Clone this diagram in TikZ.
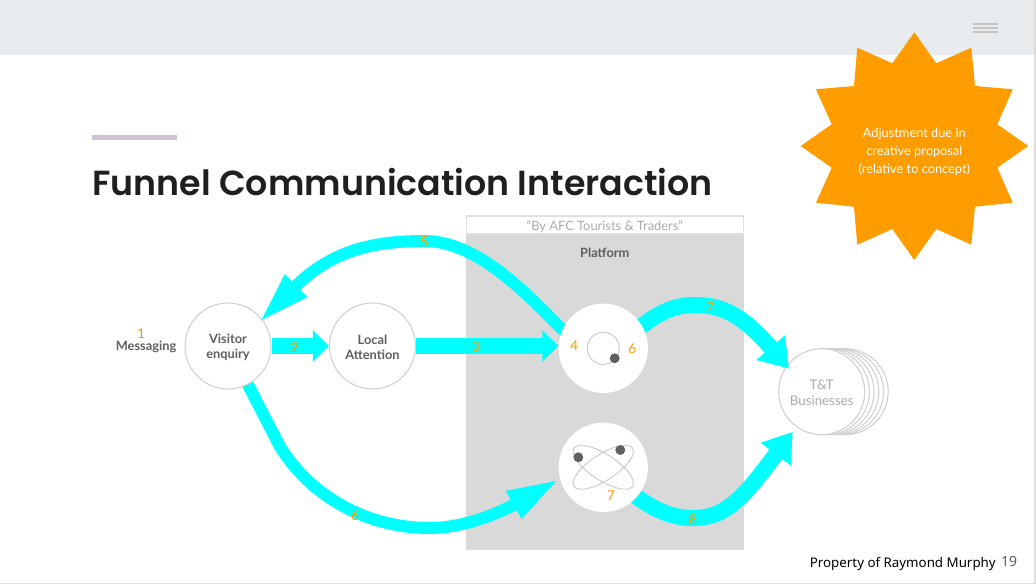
\documentclass[tikz,border=0pt]{standalone}
\usepackage{fontspec}
\setmainfont{Lato}
\newfontfamily\footfont{Noto Sans}
\newfontfamily\titlefont{Poppins SemiBold}
\usetikzlibrary{arrows.meta,calc}
\pgfdeclarelayer{bg}\pgfdeclarelayer{behind}\pgfdeclarelayer{front}
\pgfsetlayers{bg,behind,main,front}
\definecolor{flow}{HTML}{00FFFF}
\definecolor{star}{HTML}{FF9C00}
\definecolor{band}{HTML}{E9ECEE}
\definecolor{plat}{HTML}{D9D9D9}
\definecolor{ring}{HTML}{D0D0D0}
\definecolor{ink}{HTML}{5F5F5F}
\definecolor{pale}{HTML}{ABABAB}
\definecolor{accent}{HTML}{D2BFD8}
\tikzset{
 flowA/.style={draw=flow,line width=9pt,-{Triangle[length=40pt,width=21pt]}},
 flowB/.style={draw=flow,line width=12pt,-{Triangle[length=21pt,width=27pt]}},
 flowS/.style={draw=flow,line width=11.5pt,-{Triangle[length=12pt,width=23pt]}},
 round/.style={circle,minimum size=64.5pt,inner sep=0pt,draw=ring,line width=.8pt,fill=white,align=center,font=\bfseries\fontsize{9.6}{11.2}\selectfont,text=ink},
 hub/.style={circle,minimum size=67pt,inner sep=0pt,fill=white},
 num/.style={text=star,font=\fontsize{10.2}{11}\selectfont,inner sep=0pt},
 dot/.style={circle,fill=ink,minimum size=7.4pt,inner sep=0pt},
}
\begin{document}
\begin{tikzpicture}[x=.75pt,y=-.75pt]
\useasboundingbox (0,0) rectangle (1036,584);
\begin{pgfonlayer}{bg}
\fill[white] (0,0) rectangle (1036,584);
\fill[band] (0,0) rectangle (1034,55);
\fill[plat] (465.5,234) rectangle (744,550);
\fill[ring!70] (1034,0) rectangle (1036,584);
\fill[ring!70] (0,583) rectangle (1036,584);
\end{pgfonlayer}
\draw[pale!70,line width=.9pt] (973,24) -- (998,24) (973,28) -- (998,28) (973,32) -- (998,32);
\fill[star] (914.3,32.3) -- (936.3,63.3) -- (971.3,47.7) -- (975,86) -- (1012.7,89.3) -- (997.3,124.3) -- (1028.3,146) -- (997.3,167.7) -- (1012.7,202.7) -- (975,206.7) -- (971.3,244.7) -- (936.3,229) -- (914.3,260) -- (892.3,229) -- (857.3,244.7) -- (854,206.7) -- (816,202.7) -- (831.7,167.7) -- (800.7,146) -- (831.7,124.3) -- (816,89.3) -- (854,86) -- (857.3,47.7) -- (892.3,63.3) -- cycle;
\node[text=white,align=center,font=\fontsize{9.6}{13.6}\selectfont] (note) at (914.3,152) {Adjustment due in\\creative proposal\\(relative to concept)};
\fill[accent] (92,135) rectangle (177,140);
\node[anchor=west,inner sep=0pt,text=black!88,font=\titlefont\fontsize{26.1}{30}\selectfont] (title) at (92,182.5) {Funnel Communication Interaction};
\node[draw=band!95!black,line width=.8pt,fill=white,minimum width=208pt,minimum height=13.5pt,inner sep=0pt,text=pale,font=\fontsize{9.65}{11}\selectfont,text depth=1pt,text height=9pt] (caption) at (604.75,225) {“By AFC Tourists \& Traders”};
\node[text=ink,font=\bfseries\fontsize{9.6}{11}\selectfont] (platform) at (604.75,252.5) {Platform};
% circles
\node[round,text height=20.5pt] (visitor) at (228,346) {Visitor\\enquiry};
\node[round,text height=20.5pt] (local) at (372.5,346) {Local\\Attention};
\foreach \i in {5,4,3,2,1}{\node[round] (stack\i) at ({821.7+\i*4.7},391.7) {};}
\node[round,text=pale,font=\fontsize{10}{12}\selectfont,text height=21.5pt] (biz) at (821.7,391.7) {T\&T\\Businesses};
\node[text=ink,font=\bfseries\fontsize{9.6}{11}\selectfont] (messaging) at (146,346.5) {Messaging};
\begin{pgfonlayer}{front}
\node[hub] (dial) at (603.3,348.3) {};
\node[hub] (atom) at (603.3,467.3) {};
\draw[ring,line width=.8pt] (dial) circle[radius=16];
\node[dot] (dialdot) at (614.7,358.3) {};
\draw[ring,line width=.8pt,rotate around={33:(atom)}] (atom) ellipse[x radius=35,y radius=13];
\draw[ring,line width=.8pt,rotate around={-33:(atom)}] (atom) ellipse[x radius=35,y radius=13];
\node[dot] (atomdotA) at (578.3,457.3) {};
\node[dot] (atomdotB) at (620.3,450) {};
\node[num] (n1) at (141,334) {1};
\node[num] (n2) at (294.7,347.3) {2};
\node[num] (n3) at (476,346.5) {3};
\node[num] (n4) at (574.3,346) {4};
\node[num] (n5) at (424.3,241.7) {5};
\node[num] (n6) at (632.3,348.3) {6};
\node[num] (n6b) at (355,516) {6};
\node[num] (n7) at (710.3,307.3) {7};
\node[num] (n7b) at (611,496) {7};
\node[num] (n8) at (693,519.3) {8};
\node[font=\footfont\fontsize{10}{11}\selectfont,text=black,inner sep=0pt,anchor=east] (owner) at (996,563.5) {Property of Raymond Murphy};
\node[font=\footfont\fontsize{10.5}{11}\selectfont,text=ink,inner sep=0pt] (page) at (1009,561.5) {19};
\end{pgfonlayer}
% connectors
\begin{pgfonlayer}{behind}
\draw[flowS] (visitor) -- (local);
\draw[flowS] (local.east) -- (dial.west |- local.east);
\draw[flowA] (visitor.center) -- (280,446.7) .. controls (310,495) and (365,528) .. (430,528) .. controls (470,528) and (510,507) .. ([shift={(-1,-4)}]atom.200);
\end{pgfonlayer}
\draw[flowA] (dial.center) -- (566,333) .. controls (530,298) and (480,241) .. (424,241) .. controls (370,241) and (330,252) .. ([shift={(-4,4)}]visitor.38);
\draw[flowB] (dial.center) -- (643,325) .. controls (660,312) and (675,305) .. (695,305) .. controls (725,305) and (745,318) .. ([shift={(3,2)}]biz.145);
\draw[flowB] (atom.center) -- (637,497) .. controls (655,510) and (672,518) .. (693,518) .. controls (728,518) and (745,495) .. ([shift={(-3.4,5)}]biz.234);
\end{tikzpicture}
\end{document}
